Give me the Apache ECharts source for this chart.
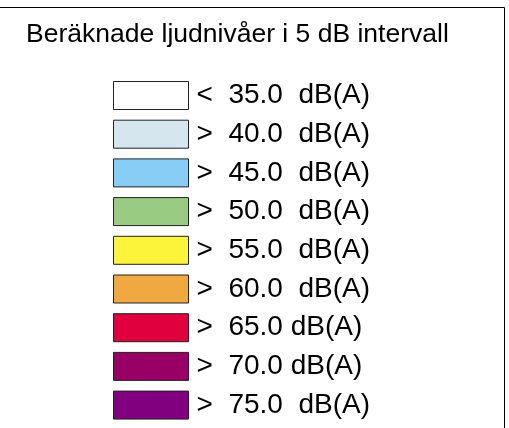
<!DOCTYPE html>
<html>
<head>
<meta charset="utf-8">
<script src="https://cdn.jsdelivr.net/npm/echarts@6/dist/echarts.min.js"></script>
<style>
  html, body { margin: 0; padding: 0; background: #fff; }
  #main { width: 509px; height: 428px; }
</style>
</head>
<body>
<div id="main"></div>
<script>
// legend classes (sound levels, 5 dB steps)
var levelLabels = [
  '<  35.0  dB(A)',
  '>  40.0  dB(A)',
  '>  45.0  dB(A)',
  '>  50.0  dB(A)',
  '>  55.0  dB(A)',
  '>  60.0  dB(A)',
  '>  65.0 dB(A)',
  '>  70.0 dB(A)',
  '>  75.0  dB(A)'
];
var levelColors = [
  '#ffffff', '#d6e6ee', '#88cdf5', '#99cc82', '#fbf43a',
  '#f0a840', '#e0003e', '#990066', '#800080'
];
var titleText = 'Beräknade ljudnivåer i 5 dB intervall';

var myChart = echarts.init(document.getElementById('main'));

/* one empty series per class, only the legend is shown */
var series = levelLabels.map(function (name, i) {
  return {
    name: name,
    type: 'bar',
    data: [],
    itemStyle: { color: levelColors[i] }
  };
});

var option = {
  animation: false,
  title: {
    text: titleText,
    left: 26,
    top: 21,
    padding: 0,
    textStyle: {
      fontFamily: 'Liberation Sans',
      fontSize: 26.5,
      fontWeight: 'normal',
      color: '#000'
    }
  },
  // frame: only top and right edges are in the picture
  graphic: [{
    type: 'polyline',
    silent: true,
    shape: { points: [[0, 7.5], [504.5, 7.5], [504.5, 428]] },
    style: { stroke: '#000', lineWidth: 1, fill: null }
  }],
  grid: { show: false },
  xAxis: { type: 'value', show: false },
  yAxis: { type: 'category', show: false },
  legend: {
    orient: 'vertical',
    left: 113,
    top: 81,
    padding: 0,
    icon: 'rect',
    itemWidth: 75,
    itemHeight: 28,
    itemGap: 9.7,
    selectedMode: false,
    itemStyle: { borderColor: '#222', borderWidth: 1 },
    textStyle: {
      fontFamily: 'Liberation Sans',
      fontSize: 28,
      lineHeight: 28,
      padding: [0, 0, 0, 3],
      color: '#000'
    },
    data: levelLabels
  },
  series: series
};

myChart.setOption(option);
</script>
</body>
</html>
